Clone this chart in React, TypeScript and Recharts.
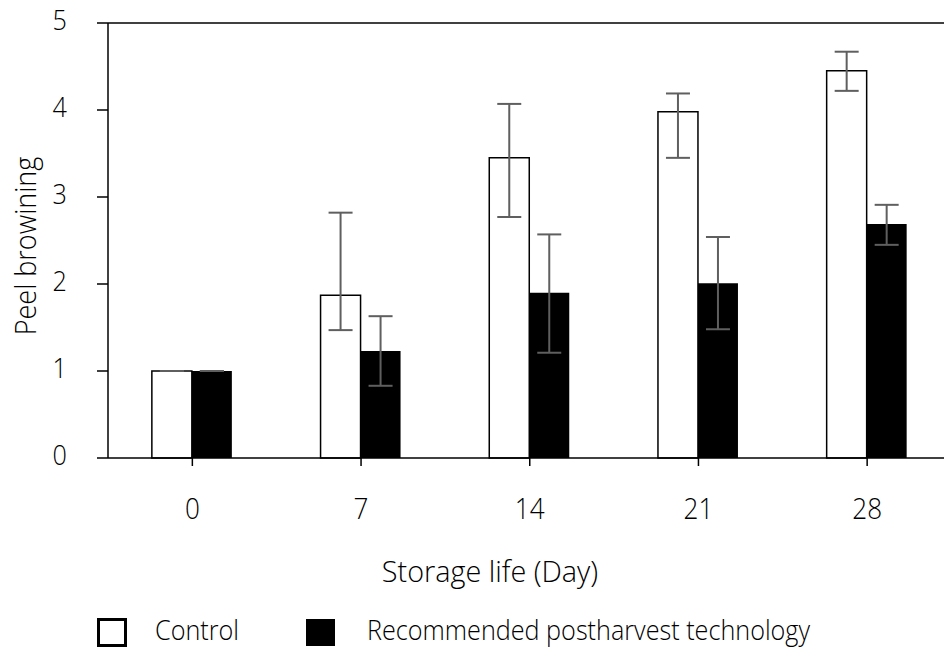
import { BarChart, Bar, XAxis, YAxis, ErrorBar, ReferenceLine, Label } from "recharts";

const days = ["0", "7", "14", "21", "28"];
const control = [1.0, 1.87, 3.45, 3.98, 4.45];
const recommended = [1.0, 1.23, 1.9, 2.01, 2.69];
// [below, above] offsets
const controlErr = [[0, 0], [0.4, 0.95], [0.68, 0.62], [0.53, 0.21], [0.23, 0.22]];
const recommendedErr = [[0, 0], [0.4, 0.4], [0.69, 0.67], [0.53, 0.53], [0.24, 0.22]];
const yTicks = [0, 1, 2, 3, 4, 5];
const seriesNames = ["Control", "Recommended postharvest technology"];

const data = days.map((day, i) => ({
  day,
  control: control[i],
  recommended: recommended[i],
  controlErr: controlErr[i],
  recommendedErr: recommendedErr[i],
}));

const FONT = "'Open Sans', 'Noto Sans', sans-serif";
const textStyle = { fontFamily: FONT, fontWeight: 300, fill: "#000" };

function YTick(props: any) {
  const { x, y, payload } = props;
  return (
    <text transform={`translate(${x},${y + 7}) scale(0.9,1)`} textAnchor="end" fontSize={28} style={textStyle}>
      {payload.value}
    </text>
  );
}

function XTick(props: any) {
  const { x, y, payload } = props;
  return (
    <text transform={`translate(${x},${y + 53}) scale(0.87,1)`} textAnchor="middle" fontSize={30} style={textStyle}>
      {payload.value}
    </text>
  );
}

const xTitle = () => (
  <text transform="translate(490,582) scale(0.96,1)" textAnchor="middle" fontSize={30} style={textStyle}>
    Storage life (Day)
  </text>
);

const yTitle = () => (
  <text transform="translate(36,246) rotate(-90) scale(0.9,1)" textAnchor="middle" fontSize={30} style={textStyle}>
    Peel browining
  </text>
);

export default function App() {
  const axisStroke = { stroke: "#000", strokeWidth: 1.5 };
  return (
    <div style={{ position: "absolute", left: 0, top: 0, width: 944, height: 652, overflow: "hidden", background: "#fff" }}>
      <BarChart
        width={960}
        height={652}
        data={data}
        margin={{ top: 23, right: 8.5, left: 0, bottom: 0 }}
        barCategoryGap="26%"
        barGap={0}
      >
        <XAxis
          dataKey="day"
          height={194}
          axisLine={axisStroke}
          tickLine={axisStroke}
          tickSize={8}
          tickMargin={0}
          tick={<XTick />}
          interval={0}
        >
          <Label content={xTitle} />
        </XAxis>
        <YAxis
          width={108}
          domain={[0, 5]}
          ticks={yTicks}
          interval={0}
          axisLine={axisStroke}
          tickLine={axisStroke}
          tickSize={11}
          tickMargin={30}
          tick={<YTick />}
        >
          <Label content={yTitle} />
        </YAxis>
        <ReferenceLine y={5} stroke="#000" strokeWidth={1.5} />
        <Bar dataKey="control" name={seriesNames[0]} fill="#fff" stroke="#000" strokeWidth={1.5} isAnimationActive={false}>
          <ErrorBar dataKey="controlErr" width={12} stroke="#5f5f5f" strokeWidth={2} isAnimationActive={false} />
        </Bar>
        <Bar dataKey="recommended" name={seriesNames[1]} fill="#000" isAnimationActive={false}>
          <ErrorBar dataKey="recommendedErr" width={12} stroke="#5f5f5f" strokeWidth={2} isAnimationActive={false} />
        </Bar>
      </BarChart>

      {/* legend */}
      <svg width={944} height={52} style={{ position: "absolute", left: 0, top: 600 }}>
        <rect x={98.5} y={19.5} width={27} height={26} fill="#fff" stroke="#000" strokeWidth={3} />
        <text transform="translate(155,40) scale(0.9,1)" fontSize={28} style={textStyle}>
          {seriesNames[0]}
        </text>
        <rect x={306} y={19} width={29} height={27} fill="#000" />
        <text transform="translate(367,40) scale(0.9,1)" fontSize={28} style={textStyle}>
          {seriesNames[1]}
        </text>
      </svg>
    </div>
  );
}
